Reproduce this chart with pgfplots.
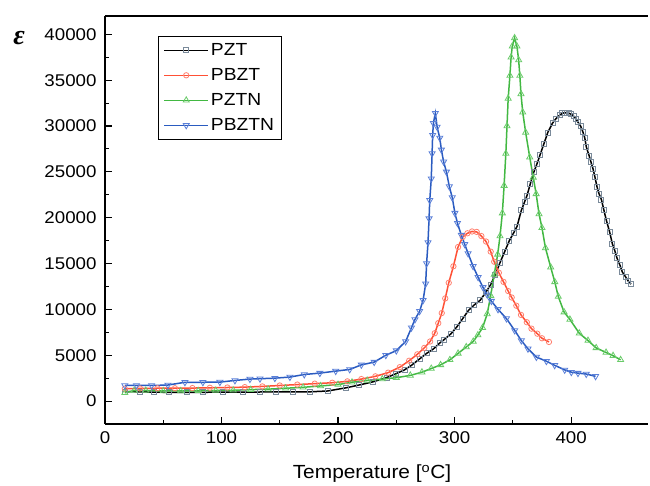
\documentclass[border=0pt]{standalone}
\usepackage{pgfplots}
\pgfplotsset{compat=1.18}
\usepackage{fontspec}
\setmainfont{Liberation Sans}[FakeStretch=1.1]
\newfontfamily\epsfont{Liberation Serif}
\definecolor{mPZT}{HTML}{7A8A9A}
\definecolor{cPBZT}{HTML}{FF5035}
\definecolor{mPBZT}{HTML}{FF8070}
\definecolor{cPZTN}{HTML}{42B842}
\definecolor{mPZTN}{HTML}{6ACB6A}
\definecolor{cPBZTN}{HTML}{2A5BC0}
\definecolor{mPBZTN}{HTML}{5A7FD8}
\begin{document}
\begin{tikzpicture}
\begin{axis}[
 name=ax,
 scale only axis, width=543pt, height=408pt,
 xmin=0, xmax=466, ymin=-2500, ymax=42000,
 axis x line*=bottom, axis y line*=left,
 axis line style={-, line width=1.2pt},
 xtick={0,100,...,400}, ytick={0,5000,...,40000},
 minor x tick num=1, minor y tick num=1,
 tick align=inside,
 major tick length=7pt, minor tick length=4pt,
 every tick/.style={line width=1.1pt, black},
 scaled y ticks=false,
 yticklabel style={/pgf/number format/1000 sep={}, xshift=-5pt},
 xticklabel style={yshift=-4pt},
 /pgf/number format/assume math mode=true,
 tick label style={font=\fontsize{17}{20}\selectfont},
 legend style={at={(0.0976,0.951)}, anchor=north west, draw=black, line width=1pt,
   font=\fontsize{17.5}{20}\selectfont, row sep=7.5pt, inner xsep=5pt, inner ysep=5pt,
   cells={anchor=west}},
 legend image code/.code={\draw[mark repeat=2,mark phase=2,#1] plot coordinates {(0pt,0pt) (22pt,0pt) (44pt,0pt)};},
 clip=false,
]
\addplot[color=black, line width=1.5pt, mark=square, mark size=2.5pt, mark options={draw=mPZT, fill=white, line width=0.8pt}] coordinates {
(17,1050)(30,1000)(42,980)(55,950)(70,950)(84,960)(101,970)(118,980)(133,990)(147,1000)(161,1000)(176,1010)(191,1100)(207,1450)(218,1750)(230,2100)(241.5,2550)(250,3000)(257,3400)(263,3900)(270,4600)(276,5200)(282,5700)(287,6300)(291,6700)(297,7350)(302,8100)(307,9000)(312,9900)(317,10500)(322,11000)(327,11900)(331,12700)(335,13800)(339,15100)(343,16300)(347,17500)(350.5,18300)(353.6,19050)(357.3,20800)(360,21700)(362.2,22430)(365,23700)(368,24970)(370.8,25900)(373.5,26900)(376.5,28000)(380,29300)(384,30300)(387,30800)(390,31160)(392.5,31400)(395,31450)(398,31400)(400.2,31270)(402,31100)(404,30790)(406,30400)(408.2,29990)(410,29400)(411.7,28720)(413.1,27700)(415.4,26790)(417,26100)(418.8,25340)(420.5,24400)(422.3,23340)(424,22600)(426,21990)(428,20900)(430.3,19700)(433.1,18430)(435.4,17160)(437.5,16400)(439.4,15590)(442,14800)(444,14070)(447,13500)(449,13100)(451.4,12760)
};
\addlegendentry{PZT}
\addplot[color=cPBZT, line width=1.5pt, mark=o, mark size=2.7pt, mark options={draw=mPBZT, fill=white, line width=0.8pt}] coordinates {
(17,1350)(30,1380)(45,1400)(60,1400)(75,1420)(90,1450)(105,1480)(120,1520)(135,1600)(150,1700)(165,1800)(180,1900)(195,2000)(208,2150)(220,2400)(232,2700)(243,3100)(253,3700)(261,4400)(268,5100)(274,5800)(279,6500)(283,7400)(286,8500)(289,9600)(292,11200)(295,12900)(299,14700)(303,16800)(307,17900)(311,18300)(315,18500)(319,18450)(323,18000)(327,17400)(331,16300)(334,15200)(338,14000)(342,13000)(346,12000)(349,11300)(353,10400)(357,9400)(362,8600)(366,7900)(371,7350)(375,6850)(381,6450)
};
\addlegendentry{PBZT}
\addplot[color=cPZTN, line width=1.5pt, mark=triangle, mark size=3.5pt, mark options={draw=mPZTN, fill=white, line width=0.8pt}] coordinates {
(17,900)(25,1150)(35,1150)(50,1100)(65,1100)(80,1120)(95,1150)(110,1180)(125,1250)(140,1300)(155,1400)(170,1500)(185,1650)(200,1800)(212,2050)(225,2250)(238,2400)(250,2550)(262,2800)(272,3150)(280,3550)(288,3950)(296,4500)(303,5200)(310,5900)(316,6500)(320,7200)(324,8000)(328,9500)(331,11500)(334,13800)(337,16000)(339,18000)(341,20500)(342.5,23500)(344,27000)(345,30000)(346,33000)(347.5,35500)(348.5,37500)(349.5,38700)(351.5,39600)(353.5,38700)(355,37200)(356,35500)(357,33500)(358.5,31500)(361,29300)(364.5,26600)(367.5,24400)(370,22600)(372.5,20400)(375,18900)(378,16700)(382.5,14600)(386,13000)(389,11400)(394,9700)(399,8900)(407,7400)(414.5,6600)(421.5,5800)(430,5300)(436,4950)(442.5,4500)
};
\addlegendentry{PZTN}
\addplot[color=cPBZTN, line width=1.5pt, mark=triangle, mark size=3.5pt, mark options={rotate=180, draw=mPBZTN, fill=white, line width=0.8pt}] coordinates {
(17,1700)(27,1700)(40,1700)(54,1750)(68.6,2050)(84,2050)(98.6,2070)(111.5,2250)(124.4,2400)(133,2440)(145.8,2500)(158.7,2620)(171,2900)(184.4,3050)(198,3270)(210,3450)(220,3950)(231,4250)(241,5000)(250,5500)(258,6500)(263,8000)(266,8900)(270,9800)(273,11000)(275.2,12800)(276,15000)(277.2,17300)(278.1,19900)(278.7,21900)(280,24250)(280.7,27000)(281.2,29000)(281.8,30300)(283.5,31400)(285,29900)(287.3,28700)(288.7,27400)(290.6,26100)(293,25000)(295.5,23400)(298,22200)(300.3,20500)(302.5,19400)(305.8,18100)(308.7,17100)(311.6,16100)(315.9,14700)(320.2,13500)(324.4,12400)(328,11600)(331.6,10900)(337.3,10000)(344.5,9000)(351.6,7700)(357.3,6600)(363,5700)(370.2,4800)(378.8,4350)(385.9,3900)(394.5,3400)(400.2,3150)(405.9,3050)(413,2950)(421,2700)
};
\addlegendentry{PBZTN}
\draw[line width=1.2pt] (rel axis cs:0,1) -- (rel axis cs:1,1);
\node[font=\fontsize{19}{22}\selectfont] at (rel axis cs:0.4917,-0.1225) {Temperature [\textsuperscript{o}C]};
\node[font=\fontsize{28}{30}\selectfont] at (rel axis cs:-0.158,0.947) {\epsfont\bfseries\itshape ε};
\end{axis}
\pgfresetboundingbox
\path[use as bounding box] (ax.south west) ++(-105pt,-62pt) rectangle ++(650pt,486pt);
\end{tikzpicture}
\end{document}
